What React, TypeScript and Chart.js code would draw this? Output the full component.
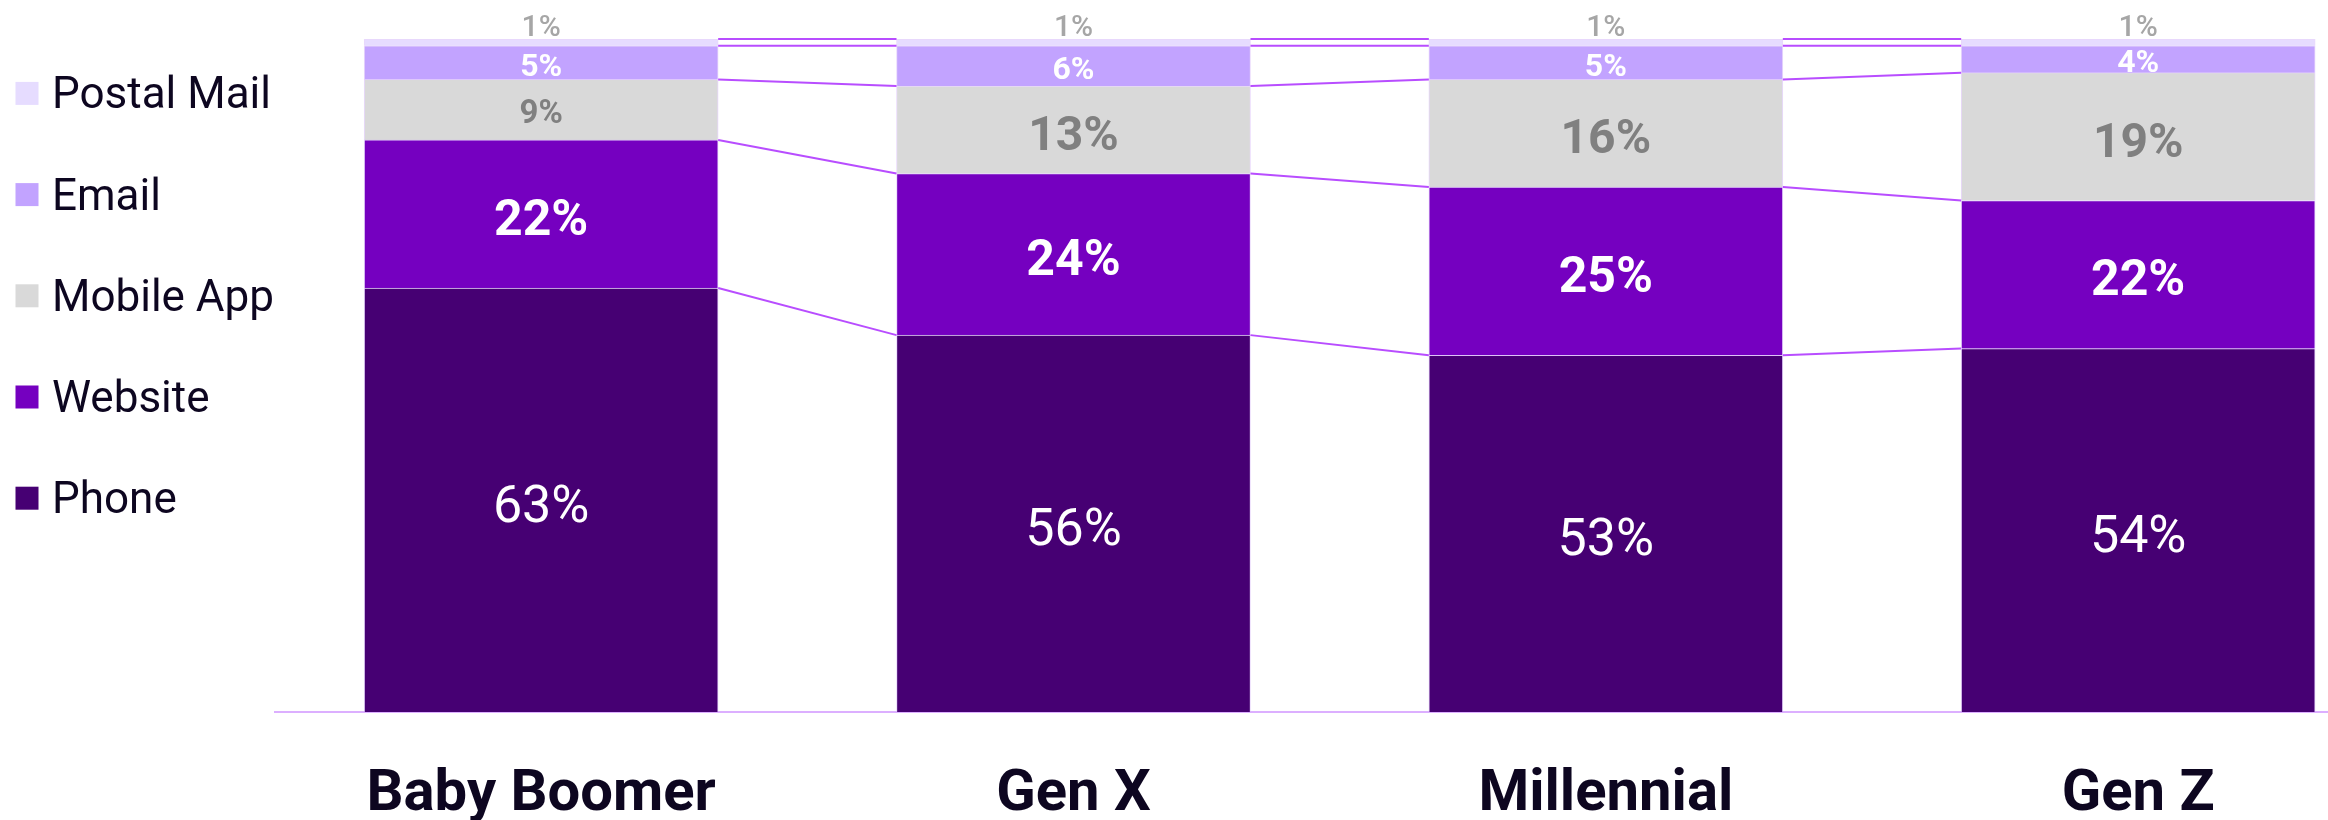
import React, { useEffect, useRef } from 'react';
import { Chart, registerables } from 'chart.js';

Chart.register(...registerables);

// ---- Data ----
const categories = ['Baby Boomer', 'Gen X', 'Millennial', 'Gen Z'];
const seriesNames = ['Phone', 'Website', 'Mobile App', 'Email', 'Postal Mail'];
const phone = [63, 56, 53, 54];
const website = [22, 24, 25, 22];
const mobileApp = [9, 13, 16, 19];
const email = [5, 6, 5, 4];
const postalMail = [1, 1, 1, 1];

// ---- Styles ----
const seriesValues = [phone, website, mobileApp, email, postalMail];
const seriesColors = ['#460073', '#7500C0', '#D9D9D9', '#C2A3FF', '#E6DCFF'];
const labelColors = ['#FFFFFF', '#FFFFFF', '#808080', '#FFFFFF', '#A6A6A6'];
const labelWeights = ['400', '700', '700', '700', '500'];
const labelSizes = [52, 50, 48, 32, 30];
const FONT = 'Roboto, "Noto Sans", sans-serif';
const TEXT_DARK = '#0D0620';

const connectorPlugin = {
  id: 'connectors',
  afterDatasetsDraw(chart: any) {
    const ctx = chart.ctx;
    ctx.save();
    ctx.strokeStyle = '#B84DFF';
    ctx.lineWidth = 2;
    chart.data.datasets.forEach((_: any, d: number) => {
      const meta = chart.getDatasetMeta(d);
      for (let j = 0; j < meta.data.length - 1; j++) {
        const a = meta.data[j].getProps(['x', 'y', 'width'], true);
        const b = meta.data[j + 1].getProps(['x', 'y', 'width'], true);
        ctx.beginPath();
        ctx.moveTo(a.x + a.width / 2, a.y);
        ctx.lineTo(b.x - b.width / 2, b.y);
        ctx.stroke();
      }
    });
    ctx.restore();
  },
};

const labelPlugin = {
  id: 'segmentLabels',
  afterDatasetsDraw(chart: any) {
    const ctx = chart.ctx;
    ctx.save();
    ctx.textAlign = 'center';
    ctx.textBaseline = 'alphabetic';
    const last = chart.data.datasets.length - 1;
    chart.data.datasets.forEach((ds: any, d: number) => {
      const meta = chart.getDatasetMeta(d);
      meta.data.forEach((el: any, j: number) => {
        const p = el.getProps(['x', 'y', 'base'], true);
        const h = Math.abs(p.base - p.y);
        let size = labelSizes[d];
        if (d === 2 && h < 70) size = 33;
        ctx.font = `${labelWeights[d]} ${size}px ${FONT}`;
        ctx.fillStyle = labelColors[d];
        const text = `${ds.data[j].y}%`;
        if (d === last) {
          ctx.fillText(text, p.x, p.y - 3);
        } else {
          const cy = (p.y + p.base) / 2;
          ctx.fillText(text, p.x, cy + size * 0.355 + size * 0.06);
        }
      });
    });
    ctx.restore();
  },
};

const legendPlugin = {
  id: 'sideLegend',
  afterDraw(chart: any) {
    const ctx = chart.ctx;
    ctx.save();
    const n = chart.data.datasets.length;
    ctx.font = `400 44px ${FONT}`;
    ctx.textAlign = 'left';
    ctx.textBaseline = 'alphabetic';
    for (let k = 0; k < n; k++) {
      const d = n - 1 - k;
      const ds = chart.data.datasets[d];
      const cy = 93.4 + k * 101.2;
      ctx.fillStyle = ds.backgroundColor;
      ctx.fillRect(15.5, cy - 11.5, 23, 23);
      ctx.fillStyle = TEXT_DARK;
      ctx.fillText(ds.label, 52, cy + 15);
    }
    ctx.restore();
  },
};

export default function App() {
  const canvasRef = useRef<HTMLCanvasElement | null>(null);

  useEffect(() => {
    if (!canvasRef.current) return;
    const datasets = seriesNames.map((name, d) => ({
      label: name,
      data: seriesValues[d].map((v, i) => ({ x: i, y: v })),
      backgroundColor: seriesColors[d],
      borderColor: 'rgba(215,184,250,0.55)',
      borderWidth: 1,
      borderSkipped: 'bottom',
      barThickness: 354,
    }));
    const chart = new Chart(canvasRef.current, {
      type: 'bar',
      data: { datasets: datasets as any },
      options: {
        animation: false,
        responsive: false,
        devicePixelRatio: 1,
        layout: { padding: { left: 275, top: 39, right: 0, bottom: 0 } },
        plugins: {
          legend: { display: false },
          tooltip: { enabled: false },
        },
        scales: {
          x: {
            type: 'linear',
            stacked: true,
            offset: false,
            min: -0.5,
            max: 3.3566,
            grid: { display: false, drawTicks: false },
            border: { display: true, color: '#DCAFFF', width: 2 },
            afterFit: (scale: any) => {
              scale.height = 108;
            },
            ticks: {
              stepSize: 1,
              includeBounds: false,
              autoSkip: false,
              minRotation: 0,
              maxRotation: 0,
              padding: 49,
              color: TEXT_DARK,
              font: { family: FONT, size: 58, weight: 'bold' },
              callback: (v: any) => {
                const n = Number(v);
                return Number.isInteger(n) && n >= 0 && n < categories.length ? categories[n] : '';
              },
            },
          },
          y: {
            display: false,
            stacked: true,
            min: 0,
            max: 100,
          },
        },
      } as any,
      plugins: [connectorPlugin, labelPlugin, legendPlugin],
    });
    return () => chart.destroy();
  }, []);

  return (
    <div style={{ position: 'absolute', left: 0, top: 0, width: 2328, height: 820, background: '#fff' }}>
      <canvas ref={canvasRef} width={2328} height={820} style={{ display: 'block' }} />
    </div>
  );
}
